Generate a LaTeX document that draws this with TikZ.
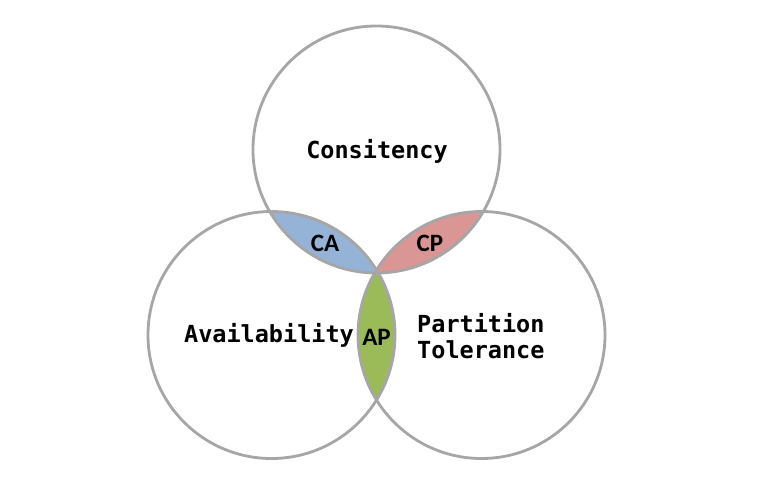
\documentclass[tikz,border=0pt]{standalone}
\usepackage{fontspec}
\setmonofont{DejaVu Sans Mono}
\newfontfamily\lensfont{Carlito}
\usepackage{tikz}
\usetikzlibrary{calc}

\definecolor{ringgray}{HTML}{A6A6A6}
\definecolor{cafill}{HTML}{95B3D7}
\definecolor{cpfill}{HTML}{DA9694}
\definecolor{apfill}{HTML}{9BBB59}

\begin{document}
\begin{tikzpicture}[x=1pt,y=-1pt,
  ring/.style={circle,draw=ringgray,line width=2.8pt,minimum size=247pt,inner sep=0pt},
  prop/.style={inner sep=0pt,align=left,font=\ttfamily\bfseries\fontsize{23.5}{26}\selectfont},
  lens/.style={inner sep=0pt,font=\lensfont\bfseries\fontsize{25}{28}\selectfont}]
\useasboundingbox (0,0) rectangle (767,495);
\coordinate (c) at (376.5,149.5);
\coordinate (a) at (271.5,335);
\coordinate (p) at (481.5,335);
% the three overlaps, filled before the rings
\begin{scope}
\clip (c) circle (123.5);
\fill[cafill] (a) circle (123.5);
\fill[cpfill] (p) circle (123.5);
\end{scope}
\begin{scope}
\clip (a) circle (123.5);
\fill[apfill] (p) circle (123.5);
\end{scope}
\node[ring] (ringc) at (c) {};
\node[ring] (ringa) at (a) {};
\node[ring] (ringp) at (p) {};
\node[prop,anchor=base] (cons) at (377,158.5) {Consitency};
\node[prop,anchor=base] (avail) at (269,342) {Availability};
\node[prop,anchor=west] (part) at (417,336) {Partition\\Tolerance};
\node[lens] (ca) at ($(c)!.5!(a)+(1,1)$) {CA};
\node[lens] (cp) at ($(c)!.5!(p)+(1,1)$) {CP};
\node[lens] (ap) at ($(a)!.5!(p)+(0,2)$) {AP};
\end{tikzpicture}
\end{document}
